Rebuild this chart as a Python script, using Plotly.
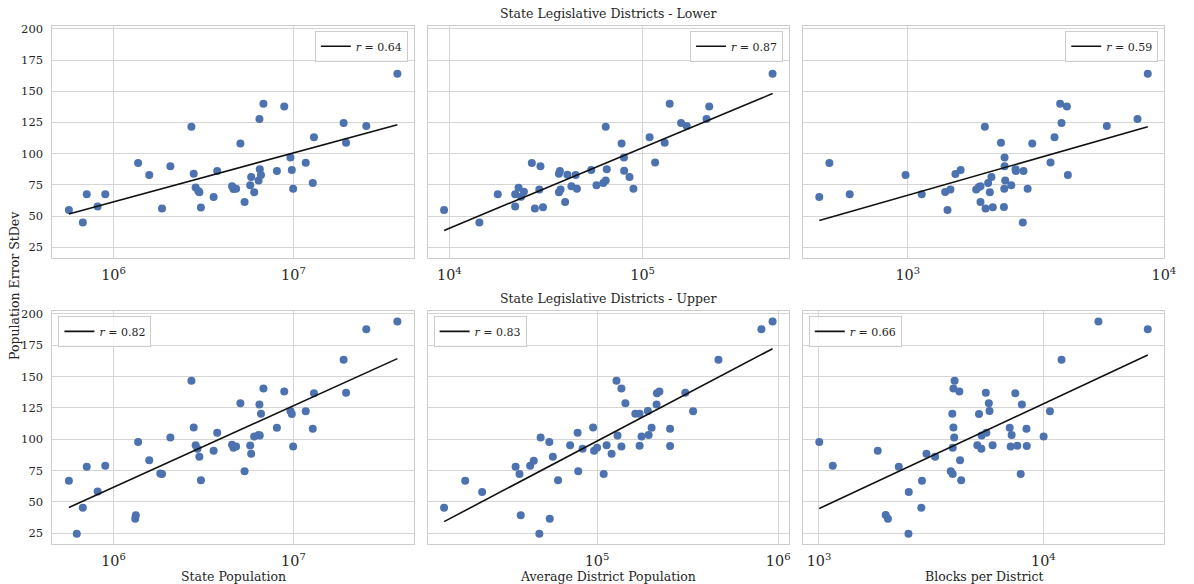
import numpy as np
import plotly.graph_objects as go

# ---------------- data ----------------
lower_state_pop = [565e3, 675e3, 710e3, 816e3, 900e3, 1.37e6, 1.58e6, 1.86e6, 2.07e6, 2.71e6,
                   2.79e6, 2.86e6, 2.96e6, 3.0e6, 3.06e6, 3.6e6, 3.77e6, 4.56e6, 4.64e6, 4.8e6,
                   5.07e6, 5.35e6, 5.75e6, 5.82e6, 6.05e6, 6.4e6, 6.47e6, 6.5e6, 6.6e6, 6.81e6,
                   8.09e6, 8.89e6, 9.62e6, 9.79e6, 9.96e6, 11.7e6, 12.8e6, 13.0e6, 19.0e6, 19.6e6,
                   25.4e6, 37.8e6]
lower_err_state = [54.9, 44.9, 67.4, 57.6, 67.4, 92.5, 83.0, 56.0, 89.9, 121.6,
                   84.0, 72.9, 70.0, 69.0, 56.8, 65.2, 86.2, 74.0, 71.6, 71.9,
                   108.1, 61.3, 74.8, 81.4, 69.0, 78.5, 127.7, 87.5, 83.0, 139.9,
                   86.2, 137.8, 97.0, 87.0, 71.9, 92.8, 76.6, 113.2, 124.5, 108.7,
                   122.2, 164.0]

lower_avg_dist = [9.39e3, 14.3e3, 17.8e3, 21.9e3, 21.9e3, 22.8e3, 23.5e3, 24.3e3, 26.7e3, 27.7e3,
                  29.2e3, 29.6e3, 30.5e3, 36.9e3, 37.3e3, 36.9e3, 37.6e3, 39.7e3, 40.8e3, 42.8e3,
                  45.0e3, 45.7e3, 54.2e3, 57.7e3, 62.6e3, 64.4e3, 64.4e3, 65.2e3, 77.8e3, 80.0e3,
                  80.2e3, 85.5e3, 89.6e3, 108.6e3, 116e3, 130e3, 138e3, 158e3, 169e3, 214e3,
                  221e3, 470e3]
lower_err_avg = [54.9, 44.9, 67.4, 57.6, 67.4, 72.7, 65.5, 69.5, 92.5, 56.0,
                 71.3, 89.9, 57.0, 84.0, 86.2, 69.0, 71.3, 61.3, 83.2, 74.0,
                 83.0, 71.9, 87.0, 74.8, 76.6, 78.5, 121.6, 87.5, 108.1, 97.0,
                 86.4, 81.4, 71.9, 113.2, 93.0, 108.7, 139.9, 124.5, 122.2, 127.7,
                 137.8, 164.0]

lower_blocks = [451, 494, 593, 980, 1133, 1399, 1429, 1467, 1534, 1608,
                1849, 1894, 1922, 1922, 1999, 2012, 2059, 2091, 2121, 2147,
                2311, 2373, 2380, 2387, 2387, 2401, 2535, 2634, 2642, 2812,
                2829, 2937, 3062, 3608, 3740, 3934, 3982, 4179, 4217, 5985,
                7888, 8650]
lower_err_blocks = [65.2, 92.5, 67.4, 83.0, 67.4, 69.2, 54.9, 71.3, 83.8, 87.0,
                    71.3, 73.2, 74.0, 61.3, 121.6, 56.0, 76.6, 69.0, 81.4, 57.0,
                    108.7, 57.3, 71.9, 97.0, 89.9, 78.5, 74.8, 87.5, 86.2, 44.9,
                    86.2, 71.9, 108.1, 93.0, 113.2, 139.9, 124.5, 137.8, 83.0, 122.2,
                    127.7, 164.0]

upper_state_pop = [565e3, 625e3, 675e3, 710e3, 816e3, 900e3, 1.32e6, 1.33e6, 1.37e6, 1.58e6,
                   1.82e6, 1.86e6, 2.07e6, 2.71e6, 2.79e6, 2.86e6, 2.93e6, 3.0e6, 3.06e6, 3.6e6,
                   3.77e6, 4.56e6, 4.64e6, 4.8e6, 5.07e6, 5.35e6, 5.75e6, 5.82e6, 6.05e6, 6.4e6,
                   6.47e6, 6.5e6, 6.6e6, 6.81e6, 8.09e6, 8.89e6, 9.62e6, 9.79e6, 9.96e6, 11.7e6,
                   12.8e6, 13.0e6, 19.0e6, 19.6e6, 25.4e6, 37.8e6]
upper_err_state = [66.8, 24.7, 45.4, 78.1, 58.3, 78.9, 36.6, 39.3, 97.7, 83.2,
                   72.6, 72.3, 101.4, 146.6, 109.3, 95.3, 92.4, 86.1, 67.3, 90.8,
                   105.1, 95.6, 93.2, 94.3, 128.6, 74.4, 95.1, 88.4, 102.2, 103.3,
                   127.8, 103.0, 120.4, 140.5, 109.1, 138.1, 122.5, 120.2, 94.3, 122.3,
                   108.3, 136.6, 163.3, 137.1, 187.8, 193.9]

upper_avg_dist = [14.3e3, 18.7e3, 23.2e3, 35.5e3, 37.3e3, 37.9e3, 42.7e3, 44.7e3, 48.0e3, 48.8e3,
                  54.5e3, 54.8e3, 57.0e3, 60.9e3, 71.0e3, 78.1e3, 78.7e3, 83.2e3, 95.1e3, 96.3e3,
                  100e3, 108.8e3, 112.9e3, 120.3e3, 128e3, 129.7e3, 136.3e3, 136.3e3, 143.4e3, 162.6e3,
                  171.7e3, 171.7e3, 176e3, 190.8e3, 192.6e3, 200e3, 213e3, 214e3, 221e3, 253e3,
                  253e3, 307e3, 339e3, 468e3, 808e3, 931e3]
upper_err_avg = [45.4, 66.8, 58.0, 78.1, 72.3, 39.3, 78.9, 82.9, 24.7, 101.4,
                 97.7, 36.6, 86.1, 67.3, 95.3, 105.1, 74.4, 92.4, 109.3, 90.8,
                 93.2, 72.3, 95.3, 88.4, 146.6, 103.0, 140.5, 94.3, 128.6, 120.4,
                 120.4, 94.8, 102.2, 122.5, 103.3, 109.1, 127.8, 136.6, 138.1, 108.3,
                 94.6, 137.1, 122.3, 163.3, 187.8, 193.9]

upper_blocks = [1003, 1152, 1828, 1983, 2029, 2268, 2505, 2513, 2858, 2877,
                3013, 3294, 3866, 3945, 3929, 3945, 3975, 4006, 4022, 3975,
                4225, 4253, 4303, 5079, 5166, 5294, 5309, 5573, 5542, 5716,
                5756, 5942, 7078, 7221, 7150, 7500, 7655, 7925, 8022, 8410,
                8434, 10030, 10700, 12050, 17600, 29200]
upper_err_blocks = [97.7, 78.9, 90.8, 39.5, 36.6, 78.1, 24.7, 58.0, 45.4, 66.8,
                    88.4, 86.1, 74.4, 72.3, 120.4, 93.2, 109.3, 101.4, 146.6, 140.5,
                    138.1, 83.2, 67.3, 95.3, 120.2, 92.4, 103.0, 105.1, 137.1, 128.6,
                    122.5, 95.3, 109.1, 103.3, 94.3, 136.6, 94.8, 72.3, 127.8, 108.3,
                    94.6, 102.2, 122.3, 163.3, 193.9, 187.8]

# fitted line values at the smallest and largest x of each panel
fit_values = [[51.7, 123.2], [38.5, 148.1], [46.4, 121.6],
              [45.6, 164.3], [34.3, 172.2], [44.8, 167.2]]
r_labels = ["0.64", "0.87", "0.59", "0.82", "0.83", "0.66"]

row_titles = ["State Legislative Districts - Lower", "State Legislative Districts - Upper"]
x_titles = ["State Population", "Average District Population", "Blocks per District"]
y_title = "Population Error StDev"
y_ticks = [25, 50, 75, 100, 125, 150, 175, 200]

panels = [
    (lower_state_pop, lower_err_state),
    (lower_avg_dist, lower_err_avg),
    (lower_blocks, lower_err_blocks),
    (upper_state_pop, upper_err_state),
    (upper_avg_dist, upper_err_avg),
    (upper_blocks, upper_err_blocks),
]

# ---------------- layout geometry (page pixels) ----------------
W, H = 1194, 584
col_px = [(53, 418), (432, 797), (811, 1176)]
row_px = [(22, 256), (309, 544)]


def fx(px):
    return px / W


def fy(py):
    return 1 - py / H


FONT = "DejaVu Serif"
TXT = "#262626"
GRID = "#d5d5d5"
SPINE = "#cccccc"
BLUE = "#4c72b0"

all_y = [v for _, ys in panels for v in ys]
ypad = 0.05 * (max(all_y) - min(all_y))
yrange = [min(all_y) - ypad, max(all_y) + ypad]

fig = go.Figure()
layout = dict(
    width=W, height=H, margin=dict(l=0, r=0, t=0, b=0),
    paper_bgcolor="white", plot_bgcolor="white",
    font=dict(family=FONT, color=TXT, size=12),
    showlegend=True,
)

for i, (xs, ys) in enumerate(panels):
    r, c = divmod(i, 3)
    n = i + 1
    xa = "x" if n == 1 else f"x{n}"
    ya = "y" if n == 1 else f"y{n}"
    leg = "legend" if n == 1 else f"legend{n}"

    lx = np.log10(xs)
    xpad = 0.05 * (lx.max() - lx.min())
    xr = [lx.min() - xpad, lx.max() + xpad]

    fig.add_trace(go.Scatter(
        x=xs, y=ys, mode="markers", xaxis=xa, yaxis=ya,
        marker=dict(color=BLUE, size=8, line=dict(width=0)),
        showlegend=False, hoverinfo="skip"))
    fig.add_trace(go.Scatter(
        x=[min(xs), max(xs)], y=fit_values[i], mode="lines", xaxis=xa, yaxis=ya,
        line=dict(color="#111111", width=1.6),
        name=f"<i>r</i> = {r_labels[i]}", legend=leg, showlegend=True))

    x0, x1 = col_px[c]
    y0, y1 = row_px[r]
    dom_x = [fx(x0), fx(x1)]
    dom_y = [fy(y1), fy(y0)]
    layout[f"xaxis{'' if n == 1 else n}"] = dict(
        type="log", range=xr, domain=dom_x, anchor=ya,
        dtick=1, exponentformat="power", showexponent="all",
        showgrid=True, gridcolor=GRID, gridwidth=1,
        showline=True, linecolor=SPINE, linewidth=1.3, mirror=True,
        zeroline=False, ticks="", tickfont=dict(size=11.5, color=TXT),
        ticklabelstandoff=4,
    )
    layout[f"yaxis{'' if n == 1 else n}"] = dict(
        range=yrange, domain=dom_y, anchor=xa,
        tickvals=y_ticks, showticklabels=(c == 0),
        showgrid=True, gridcolor=GRID, gridwidth=1,
        showline=True, linecolor=SPINE, linewidth=1.3, mirror=True,
        zeroline=False, ticks="", tickfont=dict(size=11.5, color=TXT),
        ticklabelstandoff=6,
    )
    if r == 0:
        lgx, lgxa = fx(x1 - 6), "right"
    else:
        lgx, lgxa = fx(x0 + 6), "left"
    layout[leg] = dict(
        x=lgx, xanchor=lgxa, y=fy(y0 + 5), yanchor="top",
        bgcolor="rgba(255,255,255,0.8)", bordercolor=SPINE, borderwidth=1,
        font=dict(family=FONT, size=11, color=TXT), itemwidth=30,
        tracegroupgap=0,
    )

annotations = []
for r in range(2):
    x0, x1 = col_px[1]
    annotations.append(dict(
        text=row_titles[r], xref="paper", yref="paper",
        x=fx((x0 + x1) / 2), y=fy(row_px[r][0] - 3),
        xanchor="center", yanchor="bottom", showarrow=False,
        font=dict(size=12.5, color=TXT, family=FONT)))
for c in range(3):
    x0, x1 = col_px[c]
    annotations.append(dict(
        text=x_titles[c], xref="paper", yref="paper",
        x=fx((x0 + x1) / 2), y=fy(576),
        xanchor="center", yanchor="middle", showarrow=False,
        font=dict(size=12.5, color=TXT, family=FONT)))
annotations.append(dict(
    text=y_title, xref="paper", yref="paper", x=fx(14), y=fy(283),
    xanchor="center", yanchor="middle", textangle=-90, showarrow=False,
    font=dict(size=12.5, color=TXT, family=FONT)))
layout["annotations"] = annotations

fig.update_layout(**layout)
fig.write_html("out.html", config={"displayModeBar": False},
               post_script="document.body.style.margin='0px';document.body.style.overflow='hidden';")
